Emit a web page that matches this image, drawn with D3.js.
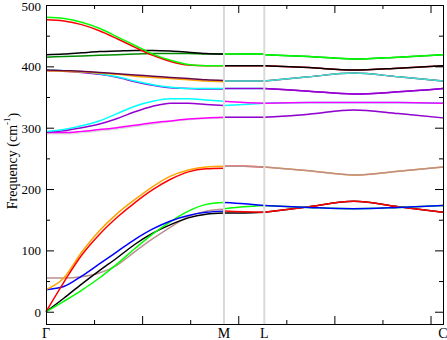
<!DOCTYPE html>
<html>
<head>
<meta charset="utf-8">
<script src="https://cdn.jsdelivr.net/npm/d3@7"></script>
<style>
    body { margin: 0; background: #fff; }
    text { font-family: "Liberation Serif", "Times New Roman", serif; fill: #000; }
</style>
</head>
<body>
<div id="chart"></div>
<script>
// high symmetry points along the path
const kLabels = ["Γ", "M", "L", "C"];
const kPos = [0, 0.3703, 0.4542, 0.826];

// sample points inside each segment (fraction of the segment)
const tGM = [0, .1, .2, .3, .4, .5, .6, .7, .8, .9, 1];
const tML = [0, .5, 1];
const tLC = [0, .25, .5, .75, 1];

// Γ -> M, frequencies in cm-1 (drawn in this order)
const gmBands = [
    [290, 290, 292, 295, 298, 302, 306, 310, 313, 315, 316],
    [292, 292, 294, 297, 300, 304, 308, 311, 314, 316, 317],
    [293, 295, 300, 306, 315, 326, 335, 340, 340, 338, 336],
    [294, 297, 303, 311, 323, 335, 343, 347, 347, 345, 343],
    [393, 392, 390, 387, 382, 375, 369, 365, 364, 363, 363],
    [394, 393, 391, 388, 383, 376, 370, 366, 364, 364, 364],
    [393, 392, 391, 389, 387, 384, 382, 380, 378, 376, 375],
    [394, 393, 392, 390, 388, 386, 384, 382, 380, 378, 377],
    [415, 416, 417, 418, 419, 420, 421, 421, 421, 420, 420],
    [419, 420, 422, 424, 425, 426, 426, 425, 423, 421, 420],
    [476, 474, 468, 458, 445, 431, 418, 408, 402, 401, 401],
    [480, 478, 472, 462, 448, 434, 420, 410, 403, 401, 401],
    [55, 55, 57, 63, 76, 98, 119, 138, 155, 164, 167],
    [0, 22, 45, 67, 88, 110, 128, 142, 153, 159, 161],
    [0, 17, 35, 55, 78, 103, 127, 147, 164, 175, 178],
    [36, 41, 58, 78, 98, 118, 135, 148, 157, 162, 164],
    [36, 55, 97, 132, 160, 183, 204, 221, 231, 236, 237],
    [0, 48, 92, 126, 154, 178, 199, 216, 228, 233, 234]
];
const gmColors = ["#dcdcdc", "#ff00ff", "#9400d3", "#00ffff", "#9400d3", "#00ffff",
    "#ffa500", "#670748", "#008b00", "#000000", "#ff0000", "#00ff00",
    "#bc8f8f", "#000000", "#00ff00", "#0000ff", "#ffa500", "#ff0000"];

// M -> L
const mlBands = [
    [237, 237, 236],
    [237, 237, 236],
    [161, 161, 162],
    [164, 163, 162],
    [168, 171, 173],
    [178, 176, 173],
    [317, 317, 317],
    [317, 317, 317],
    [336, 338, 340],
    [343, 341, 340],
    [364, 364, 364],
    [364, 364, 364],
    [376, 376, 376],
    [376, 376, 376],
    [401, 401, 401],
    [401, 401, 401],
    [420, 420, 420],
    [420, 420, 420]
];
const mlColors = ["#ff0000", "#bc8f8f", "#000000", "#ff0000", "#00ff00", "#0000ff",
    "#dcdcdc", "#9400d3", "#00ffff", "#ff00ff", "#00ffff", "#9400d3",
    "#670748", "#40e0d0", "#ff0000", "#000000", "#008b00", "#00ff00"];

// L -> C
const lcBands = [
    [236, 230, 223, 229, 236],
    [236, 230, 223, 229, 236],
    [162, 171, 180, 171, 162],
    [162, 171, 180, 171, 162],
    [173, 170, 168, 170, 173],
    [173, 170, 168, 170, 173],
    [317, 322, 329, 323, 316],
    [317, 322, 329, 323, 316],
    [340, 341, 341, 341, 340],
    [340, 341, 341, 341, 340],
    [364, 359.5, 355, 358.5, 364],
    [364, 359.5, 355, 358.5, 364],
    [376, 383, 389, 383, 376],
    [376, 383, 389, 383, 376],
    [401, 398, 394, 397, 401],
    [401, 398, 394, 397, 401],
    [419, 416, 412, 415, 419],
    [419, 416, 412, 415, 419]
];
const lcColors = ["#ffa500", "#bc8f8f", "#000000", "#ff0000", "#00ff00", "#0000ff",
    "#dcdcdc", "#9400d3", "#00ffff", "#ff00ff", "#9400d3", "#9400d3",
    "#670748", "#40e0d0", "#ff0000", "#000000", "#008b00", "#00ff00"];

const yMajor = [0, 100, 200, 300, 400, 500];
const yMinor = [50, 150, 250, 350, 450];
const xMajor = [0.2, 0.4, 0.6, 0.8];
const xMinor = [0.1, 0.3, 0.5, 0.7];


class BandVis {

    constructor(parentElement) {
        this.parentElement = parentElement;
        this.initVis();
    }

    initVis() {
        let vis = this;

        vis.width = 447;
        vis.height = 340;
        vis.box = {left: 46, right: 443, top: 5, bottom: 324};

        vis.svg = d3.select("#" + vis.parentElement).append("svg")
            .attr("width", vis.width)
            .attr("height", vis.height);

        vis.x = d3.scaleLinear().domain([0, 0.826]).range([vis.box.left, vis.box.right]);
        vis.y = d3.scaleLinear().domain([-20, 500]).range([vis.box.bottom, vis.box.top]);

        vis.line = d3.line()
            .x(d => vis.x(d[0]))
            .y(d => vis.y(d[1]))
            .curve(d3.curveMonotoneX);

        vis.wrangleData();
    }

    wrangleData() {
        let vis = this;

        // turn every segment into [k, freq] point lists
        let segs = [[gmBands, gmColors, tGM], [mlBands, mlColors, tML], [lcBands, lcColors, tLC]];
        vis.displayData = [];
        segs.forEach(([bands, colors, ts], s) => {
            let k0 = kPos[s], k1 = kPos[s + 1];
            bands.forEach((vals, i) => {
                vis.displayData.push({
                    color: colors[i],
                    pts: vals.map((v, j) => [k0 + ts[j] * (k1 - k0), v])
                });
            });
        });

        vis.updateVis();
    }

    updateVis() {
        let vis = this;

        // bands
        vis.svg.append("g").attr("class", "bands")
            .selectAll("path")
            .data(vis.displayData)
            .enter().append("path")
            .attr("d", d => vis.line(d.pts))
            .attr("fill", "none")
            .attr("stroke", d => d.color)
            .attr("stroke-width", 1.5);

        // vertical lines at M and L
        vis.svg.append("g").selectAll("line")
            .data(kPos.slice(1, 3))
            .enter().append("line")
            .attr("x1", d => vis.x(d)).attr("x2", d => vis.x(d))
            .attr("y1", vis.box.top).attr("y2", vis.box.bottom)
            .attr("stroke", "#d9d9d9")
            .attr("stroke-width", 2);

        // ticks on all four sides, pointing inward
        let addAxis = (axis, tx, ty) => {
            let g = vis.svg.append("g")
                .attr("class", "axis")
                .attr("transform", `translate(${tx}, ${ty})`)
                .call(axis);
            g.select(".domain").remove();
            g.selectAll("line").attr("stroke", "#000");
            return g;
        };

        let left = addAxis(d3.axisLeft(vis.y).tickValues(yMajor).tickSize(-8).tickPadding(5), vis.box.left, 0);
        left.selectAll("text")
            .attr("font-size", 13)
            .attr("font-family", "Liberation Serif")
            .attr("dy", d => d === 500 ? "0.45em" : "0.34em");
        addAxis(d3.axisLeft(vis.y).tickValues(yMinor).tickSize(-4).tickFormat(""), vis.box.left, 0);
        addAxis(d3.axisRight(vis.y).tickValues(yMajor).tickSize(-8).tickFormat(""), vis.box.right, 0);
        addAxis(d3.axisRight(vis.y).tickValues(yMinor).tickSize(-4).tickFormat(""), vis.box.right, 0);
        addAxis(d3.axisTop(vis.x).tickValues(xMajor).tickSize(-8).tickFormat(""), 0, vis.box.top);
        addAxis(d3.axisTop(vis.x).tickValues(xMinor).tickSize(-4).tickFormat(""), 0, vis.box.top);
        addAxis(d3.axisBottom(vis.x).tickValues(xMajor).tickSize(-8).tickFormat(""), 0, vis.box.bottom);
        addAxis(d3.axisBottom(vis.x).tickValues(xMinor).tickSize(-4).tickFormat(""), 0, vis.box.bottom);

        // frame
        vis.svg.append("rect")
            .attr("x", vis.box.left + 0.5)
            .attr("y", vis.box.top + 0.5)
            .attr("width", vis.box.right - vis.box.left)
            .attr("height", vis.box.bottom - vis.box.top)
            .attr("fill", "none")
            .attr("stroke", "#000")
            .attr("stroke-width", 1);

        // k-point labels
        vis.svg.append("g").selectAll("text")
            .data(kLabels)
            .enter().append("text")
            .attr("x", (d, i) => vis.x(kPos[i]))
            .attr("y", 338)
            .attr("text-anchor", "middle")
            .attr("font-size", 14)
            .text(d => d);

        // y title
        let title = vis.svg.append("text")
            .attr("transform", `translate(17, 161) rotate(-90)`)
            .attr("text-anchor", "middle")
            .attr("font-size", 14);
        title.append("tspan").text("Frequency (cm");
        title.append("tspan").attr("font-size", 9).attr("dy", "-0.8em").text("-1");
        title.append("tspan").attr("dy", "0.55em").text(")");
    }
}

new BandVis("chart");
</script>
</body>
</html>
